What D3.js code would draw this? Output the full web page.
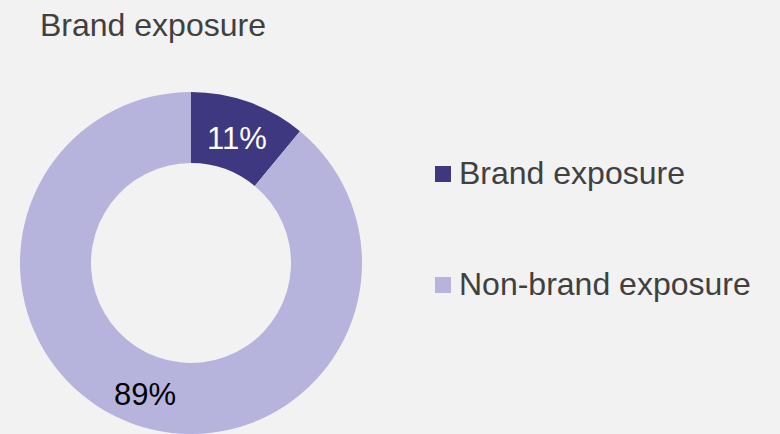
<!DOCTYPE html>
<html>
<head>
<meta charset="utf-8">
<script src="https://cdn.jsdelivr.net/npm/d3@7"></script>
<style>
  html, body { margin: 0; padding: 0; background: #f2f2f2; }
  svg { display: block; }
  text { font-family: Arial, "Liberation Sans", sans-serif; }
</style>
</head>
<body>
<svg id="chart" width="780" height="434"></svg>
<script>
// Share of exposure by type
const categories = ["Brand exposure", "Non-brand exposure"];
const values = [11, 89];
const labels = ["11%", "89%"];
const colors = ["#3d3880", "#b6b3dd"];

const svg = d3.select("#chart");
const width = 780, height = 434;

svg.append("rect").attr("width", width).attr("height", height).attr("fill", "#f2f2f2");

// Title
svg.append("text")
  .attr("x", 40).attr("y", 36)
  .attr("font-size", 32)
  .attr("fill", "#404040")
  .text("Brand exposure");

const cx = 191, cy = 263;
const outerR = 171, innerR = 100;

const pie = d3.pie().value(d => d).sort(null);
const arc = d3.arc().innerRadius(innerR).outerRadius(outerR);
const arcs = pie(values);

const g = svg.append("g").attr("transform", `translate(${cx},${cy})`);

g.selectAll("path.slice")
  .data(arcs)
  .join("path")
  .attr("class", "slice")
  .attr("d", arc)
  .attr("fill", (d, i) => colors[i]);

g.selectAll("text.lbl")
  .data(arcs)
  .join("text")
  .attr("class", "lbl")
  .attr("x", d => arc.centroid(d)[0])
  .attr("y", d => arc.centroid(d)[1])
  .attr("dy", (d, i) => i === 0 ? "0.42em" : "0.48em")
  .attr("text-anchor", "middle")
  .attr("font-size", 31)
  .attr("fill", (d, i) => i === 0 ? "#ffffff" : "#000000")
  .text((d, i) => labels[i]);

// Legend
const legendY = d3.scalePoint().domain(categories).range([174, 285]);
const legend = svg.append("g");
const items = legend.selectAll("g.item")
  .data(categories)
  .join("g")
  .attr("class", "item")
  .attr("transform", d => `translate(435,${legendY(d)})`);

items.append("rect")
  .attr("x", 0).attr("y", -8)
  .attr("width", 16).attr("height", 16)
  .attr("fill", (d, i) => colors[i]);

items.append("text")
  .attr("x", 24).attr("y", 10)
  .attr("font-size", 32)
  .attr("fill", "#404040")
  .text(d => d);
</script>
</body>
</html>
